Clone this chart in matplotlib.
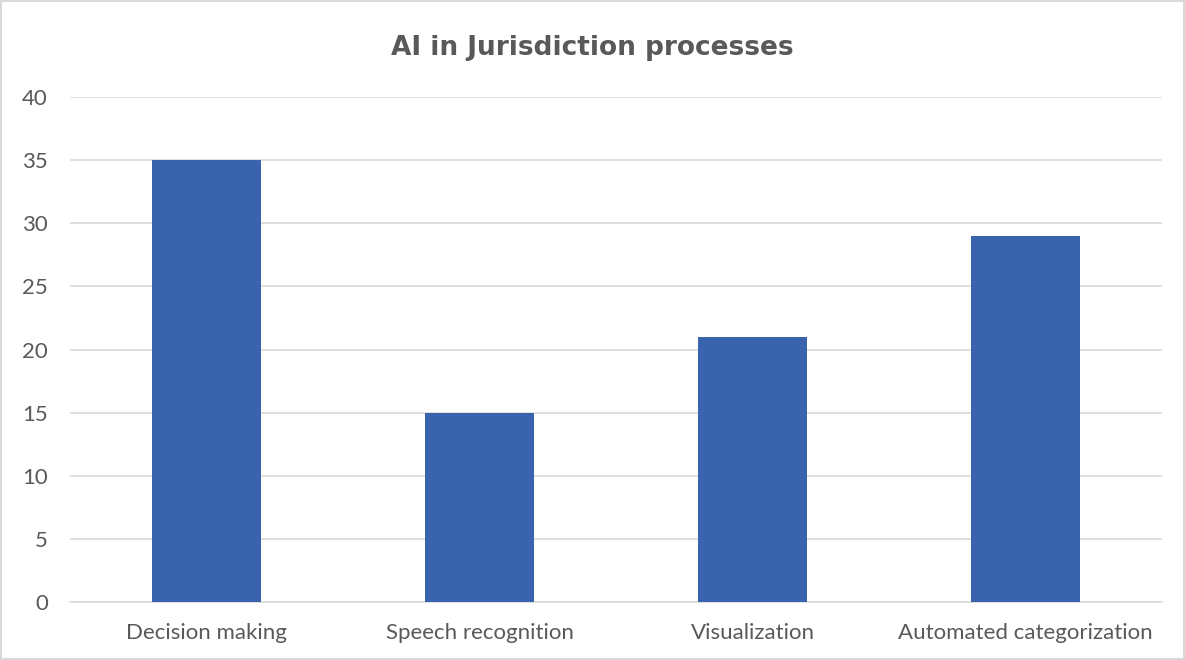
import matplotlib
matplotlib.use("Agg")
import matplotlib.pyplot as plt
from matplotlib.patches import Rectangle

# Chart data
categories = ["Decision making", "Speech recognition", "Visualization", "Automated categorization"]
values = [35, 15, 21, 29]
y_ticks = [0, 5, 10, 15, 20, 25, 30, 35, 40]

text_color = "#595959"
grid_color = "#D9D9D9"
bar_color = "#3A63AD"

fig = plt.figure(figsize=(11.85, 6.6), dpi=100)
ax = fig.add_axes([0.0591, 0.0879, 0.9215, 0.7651])

ax.bar(range(len(categories)), values, width=0.40, color=bar_color, zorder=3)

ax.set_xlim(-0.5, len(categories) - 0.5)
ax.set_ylim(0, 40)
ax.set_yticks(y_ticks)
ax.set_xticks(range(len(categories)))
ax.set_xticklabels(categories)

for label in ax.get_xticklabels() + ax.get_yticklabels():
    label.set_fontfamily("Lato")
    label.set_fontsize(16)
    label.set_color(text_color)

ax.tick_params(axis="both", length=0)
ax.tick_params(axis="x", pad=15)
ax.tick_params(axis="y", pad=16)
ax.grid(axis="y", color=grid_color, linewidth=1.2, zorder=0)
for side in ["top", "right", "left"]:
    ax.spines[side].set_visible(False)
ax.spines["bottom"].set_color(grid_color)
ax.spines["bottom"].set_linewidth(1.2)

fig.text(0.5, 0.928, "AI in Jurisdiction processes", ha="center", va="center",
         fontsize=19, fontweight="bold", color=text_color, family="DejaVu Sans")

# light border around the chart area
fig.patches.append(Rectangle((0.001, 0.001), 0.998, 0.998, transform=fig.transFigure,
                             fill=False, edgecolor=grid_color, linewidth=1.5))

fig.savefig("out.png", dpi=100)
